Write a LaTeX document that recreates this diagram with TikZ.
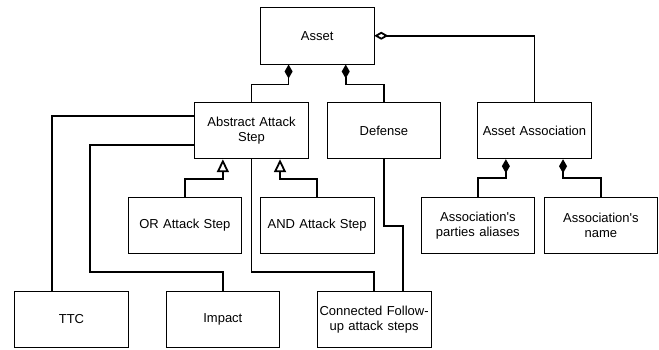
\documentclass[tikz,border=0pt]{standalone}
\usepackage{fontspec}
\setmainfont{Liberation Sans}
\usetikzlibrary{arrows.meta,calc}
\begin{document}
\begin{tikzpicture}[x=1pt,y=-1pt,
 box/.style={draw, line width=0.8pt, minimum width=113.5pt, minimum height=56.7pt, inner sep=0pt, align=center, font=\fontsize{13}{15.5}\selectfont, anchor=north west, text width=112pt},
 conn/.style={line width=1.8pt, line join=miter},
 comp/.style={conn, {Diamond[length=14pt,width=8pt]}-},
 aggr/.style={conn, {Diamond[open,length=14pt,width=8pt,fill=white]}-},
 gen/.style={conn, {Triangle[open,length=13pt,width=12pt,fill=white]}-},
]
\useasboundingbox (0,0) rectangle (659,350);
\node[box] (asset) at (260,7) {Asset};
\node[box] (aas) at (194.3,101.7) {Abstract Attack\\Step};
\node[box] (def) at (326.7,101.7) {Defense};
\node[box] (aa) at (477.3,101.7) {Asset Association};
\node[box] (or) at (127.7,196.7) {OR Attack Step};
\node[box] (and) at (260,196.7) {AND Attack Step};
\node[box] (pal) at (420.7,196.7) {Association\textquotesingle s\\parties aliases};
\node[box] (nm) at (543.7,196.7) {Association\textquotesingle s\\name};
\node[box] (ttc) at (14.3,290.7) {TTC};
\node[box] (imp) at (165.7,290.7) {Impact};
\node[box] (cfs) at (317,290.7) {Connected Follow-\\up attack steps};
\coordinate (impbend) at (90,272.3);
\coordinate (bus) at (0,272.3);
\draw[comp] ($(asset.south west)!.25!(asset.south east)$) -- ++(0,20) -| (aas.north);
\draw[comp] ($(asset.south west)!.75!(asset.south east)$) -- ++(0,20) -| (def.north);
\draw[aggr] (asset.east) -| (aa.north);
\draw[gen] ($(aas.south west)!.25!(aas.south east)$) -- ++(0,19.5) -| (or.north);
\draw[gen] ($(aas.south west)!.75!(aas.south east)$) -- ++(0,19.5) -| (and.north);
\draw[conn] ($(aas.north west)!.25!(aas.south west)$) -| ($(ttc.north west)!.333!(ttc.north east)$);
\draw[conn] ($(aas.north west)!.75!(aas.south west)$) -| (impbend) -| (imp.north);
\draw[conn] (aas.south) -- (aas.south |- bus) -| (cfs.north);
\draw[conn] (def.south) -- ++(0,66.7) -| ($(cfs.north west)!.75!(cfs.north east)$);
\draw[comp] ($(aa.south west)!.25!(aa.south east)$) -- ++(0,19) -| (pal.north);
\draw[comp] ($(aa.south west)!.75!(aa.south east)$) -- ++(0,19) -| (nm.north);
\end{tikzpicture}
\end{document}
